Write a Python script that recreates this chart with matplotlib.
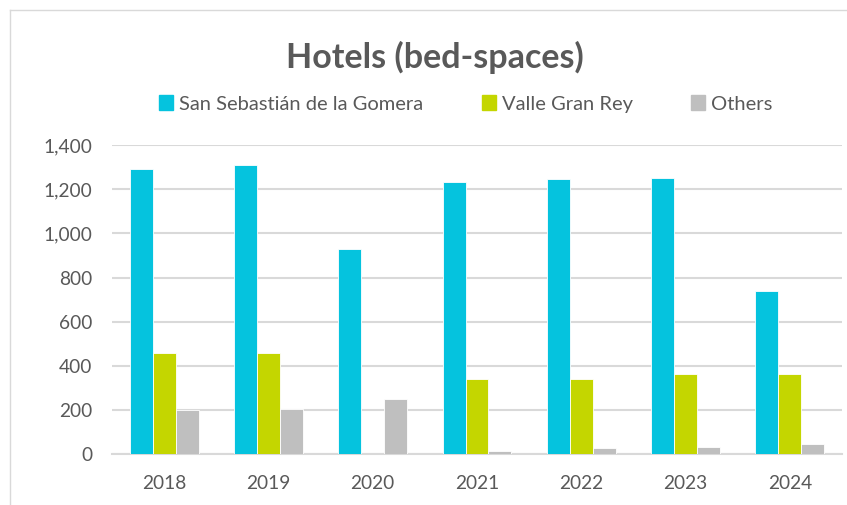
import matplotlib
matplotlib.use("Agg")
import matplotlib.pyplot as plt
import numpy as np
from matplotlib.lines import Line2D

years = ["2018", "2019", "2020", "2021", "2022", "2023", "2024"]
san_sebastian = [1290, 1308, 931, 1231, 1248, 1252, 741]
valle_gran_rey = [457, 457, 0, 340, 340, 362, 362]
others = [200, 205, 250, 15, 29, 33, 47]
series_names = ["San Sebastián de la Gomera", "Valle Gran Rey", "Others"]
colors = ["#05C3DE", "#C4D600", "#BFBFBF"]
yticks = [0, 200, 400, 600, 800, 1000, 1200, 1400]

plt.rcParams['font.family'] = ['Lato', 'DejaVu Sans']
text_color = "#595959"
grid_color = "#D9D9D9"

fig = plt.figure(figsize=(8.47, 5.05), dpi=100)
ax = fig.add_axes([112/847, 1-454.3/505, 730/847, 309.3/505])

x = np.arange(len(years))
w = 0.22
for i, (vals, c, name) in enumerate(zip([san_sebastian, valle_gran_rey, others], colors, series_names)):
    ax.bar(x + (i-1)*w, vals, width=w, color=c, edgecolor="white", linewidth=0.6, label=name, zorder=3)

ax.set_xlim(-0.5, len(years)-0.5)
ax.set_ylim(0, 1400)
ax.set_yticks(yticks)
ax.set_yticklabels([f"{v:,}" for v in yticks])
ax.set_xticks(x)
ax.set_xticklabels(years)
ax.yaxis.grid(True, color=grid_color, linewidth=1.5, zorder=0)
ax.set_axisbelow(True)
for s in ["left", "right", "top"]:
    ax.spines[s].set_visible(False)
ax.spines["bottom"].set_color(grid_color)
ax.spines["bottom"].set_linewidth(1.5)
ax.tick_params(axis="both", length=0, labelsize=13.8, colors=text_color)
ax.tick_params(axis="y", pad=14)
ax.tick_params(axis="x", pad=15)

fig.text(435/847, 1-57/505, "Hotels (bed-spaces)", ha="center", va="center",
         fontsize=24.5, fontweight="bold", color=text_color)

handles = [plt.Rectangle((0, 0), 1, 1, color=c) for c in colors]
leg = fig.legend(handles, series_names, loc="center", bbox_to_anchor=(466/847, 1-104/505),
                 ncol=3, frameon=False, fontsize=14.5, handlelength=0.7, handleheight=0.7,
                 handletextpad=0.3, columnspacing=2.9, labelcolor=text_color)

# light chart border (top and left visible)
fig.add_artist(Line2D([10/847, 1], [1-10/505, 1-10/505], transform=fig.transFigure, color=grid_color, linewidth=1))
fig.add_artist(Line2D([10/847, 10/847], [0, 1-10/505], transform=fig.transFigure, color=grid_color, linewidth=1))

fig.savefig("out.png", dpi=100, facecolor="white")
